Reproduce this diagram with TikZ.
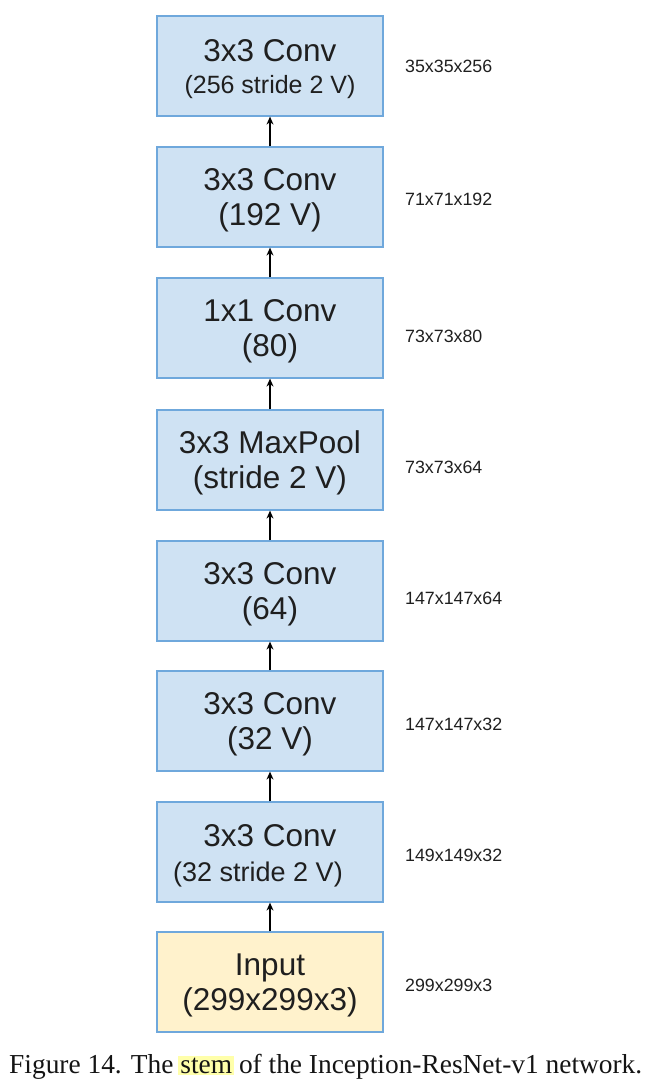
\documentclass[tikz,border=0pt]{standalone}
\usepackage{fontspec}
\setmainfont{Liberation Serif}
\setsansfont{Liberation Sans}
\usetikzlibrary{arrows.meta}
\definecolor{boxfill}{RGB}{207,226,243}
\definecolor{boxline}{RGB}{111,168,220}
\definecolor{infill}{RGB}{255,242,204}
\definecolor{hlcol}{RGB}{255,255,170}
\newcommand{\hlword}[1]{{\setlength\fboxsep{2pt}\hspace{-2pt}\colorbox{hlcol}{#1}\hspace{-2pt}}}
\newcommand{\tstrut}{\rule{0pt}{29pt}}
\tikzset{
  layer/.style={draw=boxline, line width=1.2pt, fill=boxfill, minimum width=226pt, minimum height=100pt,
    inner sep=0pt, align=center, font=\sffamily\fontsize{31.5}{35}\selectfont, text=black!88},
  inbox/.style={layer, fill=infill},
  dimlabel/.style={anchor=west, inner sep=0pt, font=\sffamily\fontsize{17.8}{20}\selectfont, text=black!88},
  arr/.style={-{Stealth[length=8pt,width=7pt]}, line width=1.3pt, black},
  captext/.style={anchor=base west, inner sep=0pt, font=\rmfamily\fontsize{27.4}{30}\selectfont, text=black!92}
}
\begin{document}
\begin{tikzpicture}[x=1pt,y=-1pt]
\useasboundingbox (0,0) rectangle (666,1088);
\node[layer] (b1) at (270,66) {\tstrut 3x3 Conv\\[-3pt]{\fontsize{25}{30}\selectfont(256 stride 2 V)}};
\node[layer] (b2) at (270,197) {\tstrut 3x3 Conv\\(192 V)};
\node[layer] (b3) at (270,328) {\tstrut 1x1 Conv\\(80)};
\node[layer] (b4) at (270,460) {\tstrut 3x3 MaxPool\\(stride 2 V)};
\node[layer] (b5) at (270,591) {\tstrut 3x3 Conv\\(64)};
\node[layer] (b6) at (270,721) {\tstrut 3x3 Conv\\(32 V)};
\node[layer] (b7) at (270,852) {\tstrut 3x3 Conv\\{\fontsize{27}{32}\selectfont(32 stride 2 V)\hspace*{24pt}}};
\node[inbox] (b8) at (270,982) {\tstrut Input\\(299x299x3)};
\node[dimlabel] (l1) at (405,66) {35x35x256};
\node[dimlabel] (l2) at (405,199) {71x71x192};
\node[dimlabel] (l3) at (405,336) {73x73x80};
\node[dimlabel] (l4) at (405,467) {73x73x64};
\node[dimlabel] (l5) at (405,598) {147x147x64};
\node[dimlabel] (l6) at (405,724) {147x147x32};
\node[dimlabel] (l7) at (405,855) {149x149x32};
\node[dimlabel] (l8) at (405,985) {299x299x3};
\draw[arr] (b8.north) -- (b7.south);
\draw[arr] (b7.north) -- (b6.south);
\draw[arr] (b6.north) -- (b5.south);
\draw[arr] (b5.north) -- (b4.south);
\draw[arr] (b4.north) -- (b3.south);
\draw[arr] (b3.north) -- (b2.south);
\draw[arr] (b2.north) -- (b1.south);
\node[captext] (caption) at (9,1073) {Figure 14. The \hlword{stem} of the Inception-ResNet-v1 network.};
\end{tikzpicture}
\end{document}
